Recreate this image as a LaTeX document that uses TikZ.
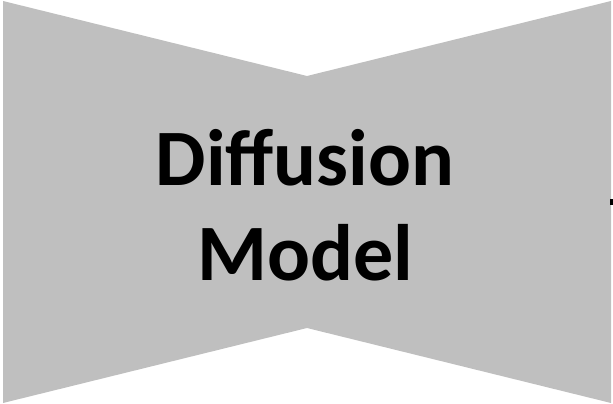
\documentclass[tikz,border=0pt]{standalone}
\usepackage{fontspec}
\setmainfont{Carlito}
\usepackage{tikz}
\usetikzlibrary{positioning, calc}
\definecolor{bowgray}{RGB}{191,191,191}
\tikzset{
    bowtie_shape/.style={fill=bowgray, draw=none},
    model_label/.style={align=center, text=black, font=\fontsize{80}{95}\selectfont\bfseries}
}
\begin{document}
\begin{tikzpicture}[x=1pt, y=-1pt]
            \useasboundingbox (0,0) rectangle (613,404);

            % Bowtie Shape
            \fill[bowtie_shape] (3,1) -- (307,76) -- (611,1) -- (611,403) -- (307,328) -- (3,403) -- cycle;
            \fill[black] (610,199) rectangle (613,205);

            % Label
            \node[model_label] (diffusion) at (305,205) {Diffusion\\Model};
		\end{tikzpicture}
\end{document}
